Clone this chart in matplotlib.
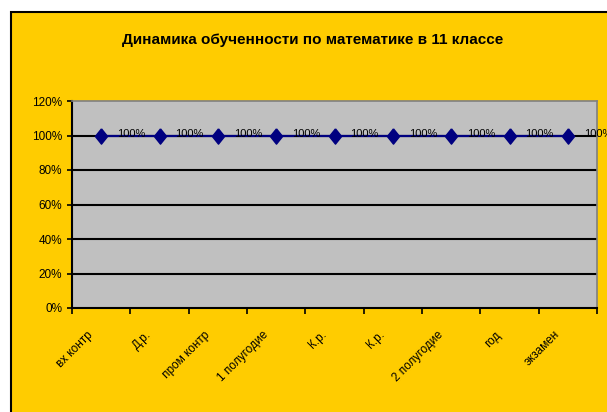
import matplotlib
matplotlib.use("Agg")
import matplotlib.pyplot as plt
from matplotlib.patches import Rectangle
from matplotlib.transforms import ScaledTranslation
from matplotlib.ticker import PercentFormatter

categories = ["вх контр", "Д.р.", "пром контр", "1 полугодие", "К.р.", "К.р.",
              "2 полугодие", "год", "экзамен"]
values = [100, 100, 100, 100, 100, 100, 100, 100, 100]
data_labels = ["100%"] * 9
yticks = [0, 20, 40, 60, 80, 100, 120]
title = "Динамика обученности по математике в 11 классе"

plt.rcParams['font.family'] = ['Liberation Sans', 'DejaVu Sans']

W, H = 607, 412
fig = plt.figure(figsize=(W / 100, H / 100), dpi=100)
fig.patch.set_facecolor('white')

# chart area
fig.patches.append(Rectangle((11 / W, -0.05), 1.2, (H - 12) / H + 0.05,
                             transform=fig.transFigure, facecolor='#FFCC00',
                             edgecolor='black', linewidth=1.5, zorder=-5))

ax = fig.add_axes([72 / W, (H - 308) / H, (597 - 72) / W, (308 - 101) / H])
ax.set_zorder(2)
ax.set_facecolor('#C0C0C0')

x = list(range(len(categories)))
ax.set_xlim(-0.5, len(categories) - 0.5)
ax.set_ylim(0, 120)

for yv in yticks[1:-1]:
    ax.axhline(yv, color='black', lw=1.5, zorder=1)

diamond = [(0, 1), (0.8, 0), (0, -1), (-0.8, 0), (0, 1)]
ax.plot(x, values, color='#000080', lw=1.6, marker=diamond, markersize=11,
        markerfacecolor='#000080', markeredgecolor='#000080', zorder=3,
        clip_on=False)

for xi, v, lab in zip(x, values, data_labels):
    ax.annotate(lab, (xi, v), xytext=(11.5, 1.2), textcoords='offset points',
                ha='left', va='center', fontsize=8, color='black', zorder=4,
                annotation_clip=False)

ax.set_yticks(yticks)
ax.yaxis.set_major_formatter(PercentFormatter(decimals=0))
ax.tick_params(axis='y', direction='out', length=3.5, width=1.2, pad=3.5,
               labelsize=8.5, colors='black')

ax.set_xticks(x)
ax.set_xticklabels(categories, rotation=45, ha='right', va='center',
                   rotation_mode='anchor', fontsize=8.5)
ax.tick_params(axis='x', which='major', length=0, pad=18)
ax.set_xticks([i - 0.5 for i in range(len(categories) + 1)], minor=True)
ax.tick_params(axis='x', which='minor', direction='out', length=4, width=1.2)
for lbl in ax.get_xticklabels():
    lbl.set_transform(lbl.get_transform() + ScaledTranslation(-10 / 100, 0, fig.dpi_scale_trans))

for s in ['top', 'right']:
    ax.spines[s].set_color('#808080')
    ax.spines[s].set_linewidth(1.2)
for s in ['left', 'bottom']:
    ax.spines[s].set_color('black')
    ax.spines[s].set_linewidth(1.5)

fig.text(313 / W, 1 - 40 / H, title, ha='center', va='center',
         fontsize=11, fontweight='bold', color='black')

fig.savefig('out.png', dpi=100)
